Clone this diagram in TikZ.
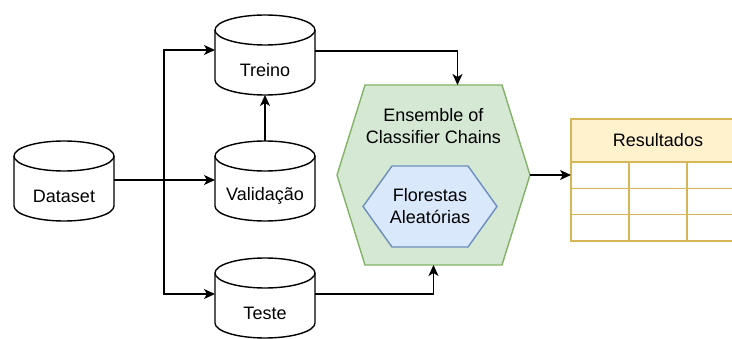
\documentclass[tikz,border=0pt]{standalone}
\usepackage{fontspec}
\setmainfont{Liberation Sans}
\usetikzlibrary{arrows.meta,positioning,backgrounds}
\definecolor{ensfill}{HTML}{D5E8D4}
\definecolor{ensline}{HTML}{82B366}
\definecolor{rffill}{HTML}{DAE8FC}
\definecolor{rfline}{HTML}{6C8EBF}
\definecolor{tabfill}{HTML}{FFF2CC}
\definecolor{tabline}{HTML}{D6B656}
\newcommand{\drawdb}[1]{%
  \path[draw, fill=white, line width=1.4pt] ([yshift=15pt]#1.north west) -- ([yshift=15pt]#1.south west)
    arc[start angle=180, end angle=360, x radius=50pt, y radius=15pt]
    -- ([yshift=15pt]#1.north east)
    arc[start angle=0, end angle=180, x radius=50pt, y radius=15pt] -- cycle;
  \draw[line width=1.4pt] ([yshift=15pt]#1.north west)
    arc[start angle=180, end angle=360, x radius=50pt, y radius=15pt];}
\newcommand{\drawhex}[3]{%
  \path[#3] (#1.west) -- ([xshift=#2]#1.north west) -- ([xshift=-#2]#1.north east)
    -- (#1.east) -- ([xshift=-#2]#1.south east) -- ([xshift=#2]#1.south west) -- cycle;}

\begin{document}
\begin{tikzpicture}[
  x=1pt, y=1pt,
  font=\fontsize{18pt}{22pt}\selectfont,
  db/.style={minimum width=100pt, minimum height=50pt, inner sep=0pt, outer sep=0pt},
  hexbox/.style={inner sep=0pt, outer sep=0pt, align=center},
  arr/.style={line width=1.4pt, -{Stealth[length=11pt, width=10pt, inset=3pt]}},
  tabcell/.style={draw=tabline, line width=1.4pt}
]
\useasboundingbox (0,0) rectangle (732,338);
\node[db] (dataset) at (64,142) {Dataset};
\node[db, right=101pt of dataset] (valid) {Validação};
\node[db] (treino) at (265,268) {Treino};
\node[db] (teste) at (265,25) {Teste};
\node[hexbox, minimum width=193pt, minimum height=180pt,
  label={[name=enstxt, align=center, anchor=center, yshift=-41pt]north:Ensemble of\\Classifier Chains}] (ens) at (433.5,163) {};
\node[hexbox, minimum width=134pt, minimum height=81pt] (rf) at (430,131.5) {Florestas\\Aleatórias};
\node[draw=tabline, fill=tabfill, line width=1.4pt, minimum width=174pt, minimum height=43pt, inner sep=0pt, outer sep=0pt] (res) at (658,197.5) {Resultados};
\foreach \r in {0,1,2}
  \foreach \c in {0,1,2}
    \draw[tabcell] ([shift={(\c*58,-\r*26.33)}]res.south west) rectangle ++(58,-26.33);
\begin{scope}[on background layer]
  \drawdb{dataset}
  \drawdb{valid}
  \drawdb{treino}
  \drawdb{teste}
  \drawhex{ens}{28pt}{draw=ensline, fill=ensfill, line width=1.4pt}
  \drawhex{rf}{29pt}{draw=rfline, fill=rffill, line width=1.4pt}
\end{scope}
% connectors
\coordinate (split) at (164,158);
\coordinate (row1) at ([yshift=-13pt]res.south west);
\draw[arr] ([yshift=16pt]dataset.east) -- ([yshift=16pt]valid.west);
\draw[arr] (split) |- ([yshift=20pt]treino.west);
\draw[arr] (split) |- ([yshift=19pt]teste.west);
\draw[arr] ([yshift=30pt]valid.north) -- (treino.south);
\draw[arr] ([yshift=19pt]treino.east) -| ([xshift=24pt]ens.north);
\draw[arr] ([yshift=19pt]teste.east) -| (ens.south);
\draw[arr] (ens.east) -- (row1);
\end{tikzpicture}
\end{document}
